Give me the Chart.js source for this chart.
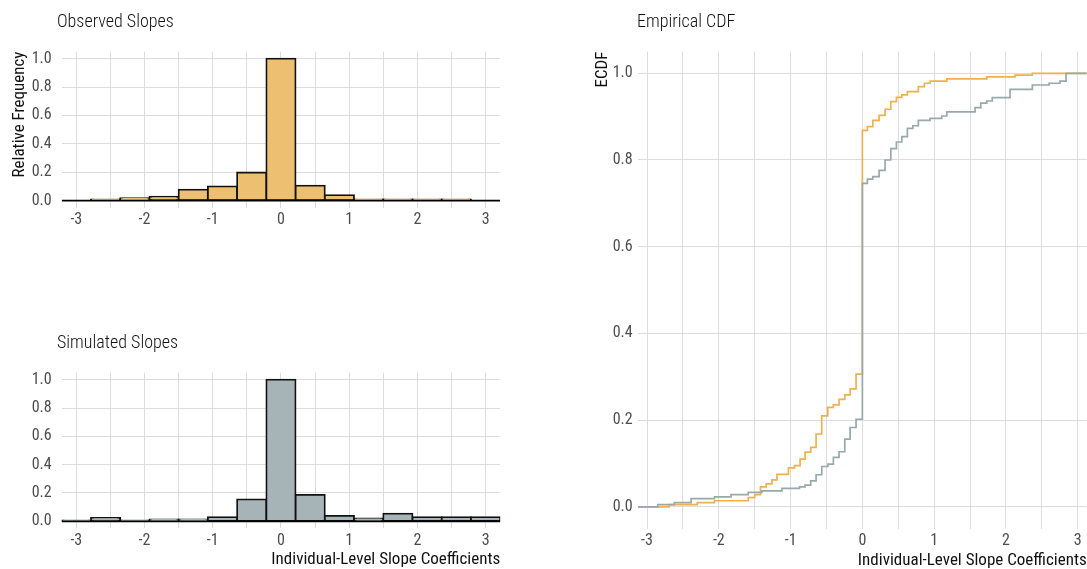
<!DOCTYPE html>
<html>
<head>
<meta charset="utf-8">
<script src="https://cdn.jsdelivr.net/npm/chart.js@4.4.1/dist/chart.umd.min.js"></script>
<style>
  body { margin: 0; background: #fff; width: 1087px; height: 569px; overflow: hidden; }
  .panel { position: absolute; left: 0; top: 0; width: 1087px; height: 569px; }
</style>
</head>
<body>
<div class="panel"><canvas id="observed"></canvas></div>
<div class="panel"><canvas id="simulated"></canvas></div>
<div class="panel"><canvas id="ecdf"></canvas></div>
<script>
/* histogram bins (centers) and relative frequencies */
const binCenters = [-3, -2.571, -2.143, -1.714, -1.286, -0.857, -0.429, 0, 0.429, 0.857, 1.286, 1.714, 2.143, 2.571, 3];
const binWidth = 0.4286;
const observedFreq  = [0, 0.009, 0.018, 0.027, 0.077, 0.100, 0.198, 1.0, 0.106, 0.038, 0.009, 0.009, 0.009, 0.009, 0];
const simulatedFreq = [0.007, 0.024, 0.007, 0.014, 0.014, 0.030, 0.155, 1.0, 0.186, 0.038, 0.021, 0.054, 0.030, 0.030, 0.030];

/* ECDF jumps: x position of each step and ECDF level after it */
const observedStepX = [-2.69, -2.30, -2.06, -1.59, -1.50, -1.42, -1.34, -1.26, -1.19, -1.03, -0.947, -0.868, -0.798, -0.719, -0.645, -0.566, -0.482, -0.404, -0.325, -0.245, -0.171, -0.088, 0, 0.07, 0.145, 0.233, 0.316, 0.396, 0.474, 0.549, 0.627, 0.78, 0.864, 0.943, 1.176, 1.733, 2.127, 2.368];
const observedStepY = [0.005, 0.0095, 0.014, 0.021, 0.028, 0.046, 0.053, 0.062, 0.075, 0.090, 0.095, 0.110, 0.126, 0.137, 0.168, 0.210, 0.2295, 0.235, 0.248, 0.258, 0.272, 0.306, 0.8685, 0.877, 0.8915, 0.903, 0.917, 0.9345, 0.9446, 0.950, 0.9576, 0.969, 0.977, 0.982, 0.987, 0.9915, 0.9958, 1.0];
const simulatedStepX = [-2.85, -2.62, -2.386, -2.06, -1.83, -1.59, -1.40, -1.12, -0.877, -0.80, -0.72, -0.645, -0.566, -0.48, -0.404, -0.325, -0.245, -0.171, -0.088, 0, 0.07, 0.145, 0.233, 0.316, 0.396, 0.474, 0.549, 0.627, 0.703, 0.78, 0.943, 1.106, 1.176, 1.570, 1.649, 1.733, 1.81, 2.057, 2.368, 2.60, 2.753, 2.837];
const simulatedStepY = [0.005, 0.0095, 0.019, 0.023, 0.028, 0.0334, 0.037, 0.0426, 0.046, 0.050, 0.060, 0.074, 0.093, 0.0987, 0.114, 0.127, 0.156, 0.183, 0.202, 0.746, 0.756, 0.7615, 0.776, 0.800, 0.826, 0.8415, 0.854, 0.873, 0.879, 0.8915, 0.896, 0.9015, 0.911, 0.9207, 0.931, 0.936, 0.9438, 0.963, 0.973, 0.977, 0.982, 1.0];
const ecdfRange = [-3.13, 3.125];

/* tick values */
const xGridTicks = [-3, -2.5, -2, -1.5, -1, -0.5, 0, 0.5, 1, 1.5, 2, 2.5, 3];
const yTicks = [0, 0.2, 0.4, 0.6, 0.8, 1.0];

const FONT = "'Roboto Condensed', 'Liberation Sans Narrow', Roboto, sans-serif";
const ORANGE_FILL = '#edbf70';
const GREY_FILL = '#a7b4b7';
const ORANGE_LINE = '#eeb14e';
const GREY_LINE = '#98a9ab';
const GRID = '#dcdcdc';

const panelTitle = {
    id: 'panelTitle',
    afterDraw(chart, args, opts) {
        const ctx = chart.ctx;
        ctx.save();
        ctx.font = `300 18px ${FONT}`;
        ctx.fillStyle = '#111';
        ctx.textBaseline = 'alphabetic';
        ctx.fillText(opts.text, opts.x, opts.y);
        ctx.restore();
    }
};

function xScale(min, max, title, pad, height) {
    return {
        type: 'linear', min: min, max: max, offset: false,
        afterBuildTicks: s => { s.ticks = xGridTicks.map(v => ({ value: v })); },
        afterFit: s => { s.height = height; },
        grid: { color: GRID, lineWidth: 1, drawTicks: false, offset: false },
        border: { display: false },
        ticks: {
            padding: pad, autoSkip: false, maxRotation: 0, color: '#4d4d4d',
            font: { family: FONT, size: 16, weight: 400 },
            callback: v => Number.isInteger(v) ? String(v) : ''
        },
        title: {
            display: !!title, text: title, align: 'end', color: '#111',
            font: { family: FONT, size: 17, weight: 400 }, padding: { top: 0, bottom: -2 }
        }
    };
}

function yScale(title, pad, width) {
    return {
        min: -0.05, max: 1.05,
        afterBuildTicks: s => { s.ticks = yTicks.map(v => ({ value: v })); },
        afterFit: s => { s.width = width; },
        grid: { color: GRID, lineWidth: 1, drawTicks: false },
        border: { display: false },
        ticks: {
            padding: pad, color: '#4d4d4d',
            font: { family: FONT, size: 16, weight: 400 },
            callback: v => v.toFixed(1)
        },
        title: {
            display: !!title, text: title, align: 'end', color: '#111',
            font: { family: FONT, size: 17, weight: 400 }, padding: { top: 0, bottom: 0 }
        }
    };
}

function histogram(id, values, fill, area, title, yTitle, xTitle) {
    const yW = 52, xH = xTitle ? 40 : 30;
    const first = binCenters[0] - binWidth / 2;
    const last = binCenters[binCenters.length - 1] + binWidth / 2;
    new Chart(document.getElementById(id), {
        type: 'bar',
        data: {
            datasets: [{
                type: 'line',
                data: [{ x: first, y: 0 }, { x: last, y: 0 }],
                borderColor: '#000', borderWidth: 1.8, pointRadius: 0
            }, {
                data: binCenters.map((c, i) => ({ x: c, y: values[i] })),
                backgroundColor: fill, borderColor: '#111', borderWidth: 1.8,
                borderSkipped: false, inflateAmount: 0.9,
                barPercentage: 1, categoryPercentage: 1
            }]
        },
        options: {
            responsive: true, maintainAspectRatio: false, animation: false,
            layout: { padding: { left: area.l - yW, top: area.t, right: 1087 - area.r, bottom: 569 - area.b - xH } },
            scales: {
                x: xScale(first, last, xTitle, 3, xH),
                y: yScale(yTitle, 10, yW)
            },
            plugins: {
                legend: { display: false }, tooltip: { enabled: false },
                panelTitle: title
            }
        },
        plugins: [panelTitle]
    });
}

histogram('observed', observedFreq, ORANGE_FILL, { l: 61.7, t: 51.6, r: 500.2, b: 207.7 },
    { text: 'Observed Slopes', x: 57, y: 26.7 }, 'Relative Frequency', '');
histogram('simulated', simulatedFreq, GREY_FILL, { l: 61.7, t: 372.6, r: 500.2, b: 528.4 },
    { text: 'Simulated Slopes', x: 57, y: 347.7 }, '', 'Individual-Level Slope Coefficients');

function ecdfPoints(xs, ys) {
    return [{ x: ecdfRange[0], y: 0 }]
        .concat(xs.map((x, i) => ({ x: x, y: ys[i] })))
        .concat([{ x: ecdfRange[1], y: 1 }]);
}

(function () {
    const area = { l: 637.7, t: 51.6, r: 1086.7, b: 528.5 };
    const yW = 45, xH = 40;
    new Chart(document.getElementById('ecdf'), {
        type: 'line',
        data: {
            datasets: [{
                data: ecdfPoints(simulatedStepX, simulatedStepY),
                borderColor: GREY_LINE, borderWidth: 1.7, stepped: 'before', pointRadius: 0, fill: false
            }, {
                data: ecdfPoints(observedStepX, observedStepY),
                borderColor: ORANGE_LINE, borderWidth: 1.7, stepped: 'before', pointRadius: 0, fill: false
            }]
        },
        options: {
            responsive: true, maintainAspectRatio: false, animation: false,
            layout: { padding: { left: area.l - yW, top: area.t, right: 1087 - area.r, bottom: 569 - area.b - xH } },
            scales: {
                x: xScale(ecdfRange[0], ecdfRange[1], 'Individual-Level Slope Coefficients', 3, xH),
                y: yScale('ECDF', 5, yW)
            },
            plugins: {
                legend: { display: false }, tooltip: { enabled: false },
                panelTitle: { text: 'Empirical CDF', x: 637, y: 26.7 }
            }
        },
        plugins: [panelTitle]
    });
})();
</script>
</body>
</html>
